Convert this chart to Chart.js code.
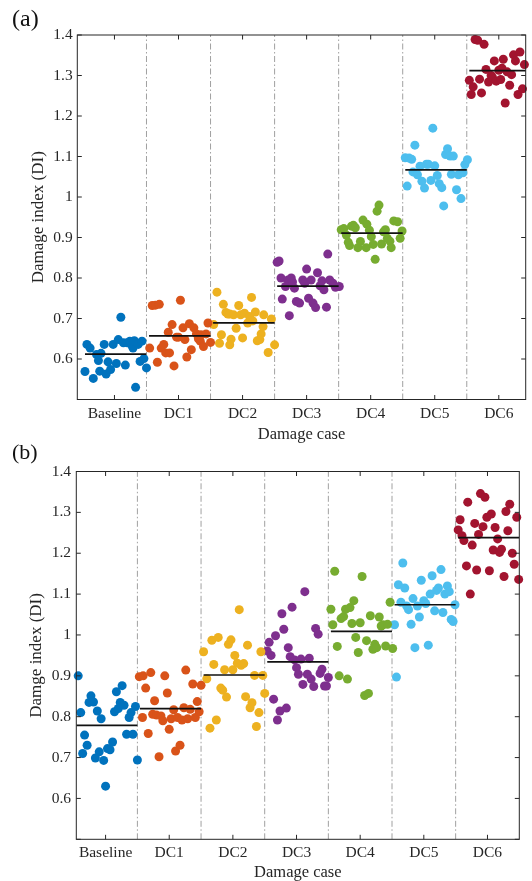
<!DOCTYPE html>
<html>
<head>
<meta charset="utf-8">
<title>Damage index by damage case</title>
<script src="https://cdn.jsdelivr.net/npm/chart.js@4.4.1/dist/chart.umd.min.js"></script>
<style>
  html, body { margin: 0; padding: 0; background: #fff; overflow: hidden; }
  #page { position: relative; width: 532px; height: 881px; }
  canvas { position: absolute; left: 0; }
  #chartA { top: 0; }
  #chartB { top: 436px; }
</style>
</head>
<body>
<div id="page">
  <canvas id="chartA" width="532" height="446"></canvas>
  <canvas id="chartB" width="532" height="450"></canvas>
</div>
<script>
const categories = ['Baseline', 'DC1', 'DC2', 'DC3', 'DC4', 'DC5', 'DC6'];
const caseColors = ['#0072BD', '#D95319', '#EDB120', '#7E2F8E', '#77AC30', '#4DBEEE', '#A2142F'];

// ----- PANEL (a): [x position, DI] -----
const aBaseline = [[0.54,0.569],[0.57,0.636],[0.62,0.627],[0.67,0.552],[0.72,0.611],[0.75,0.596],[0.77,0.570],[0.79,0.614],[0.84,0.636],[0.87,0.563],[0.90,0.593],[0.94,0.574],[0.98,0.636],[1.03,0.589],[1.06,0.648],[1.10,0.703],[1.14,0.640],[1.17,0.585],[1.20,0.640],[1.24,0.644],[1.27,0.634],[1.29,0.627],[1.31,0.645],[1.33,0.530],[1.37,0.636],[1.40,0.594],[1.43,0.644],[1.46,0.601],[1.50,0.578]];
const aDC1 = [[1.55,0.627],[1.59,0.732],[1.64,0.733],[1.67,0.592],[1.70,0.735],[1.73,0.627],[1.77,0.636],[1.80,0.615],[1.84,0.666],[1.86,0.615],[1.90,0.685],[1.93,0.583],[1.97,0.654],[2.00,0.654],[2.03,0.745],[2.07,0.677],[2.10,0.648],[2.13,0.605],[2.17,0.687],[2.20,0.623],[2.24,0.677],[2.28,0.662],[2.31,0.650],[2.34,0.644],[2.35,0.660],[2.39,0.631],[2.43,0.662],[2.46,0.689],[2.50,0.641]];
const aDC2 = [[2.55,0.685],[2.60,0.765],[2.64,0.639],[2.67,0.660],[2.70,0.735],[2.74,0.715],[2.77,0.711],[2.80,0.711],[2.80,0.635],[2.82,0.649],[2.86,0.709],[2.90,0.676],[2.94,0.732],[2.97,0.709],[3.00,0.652],[3.03,0.713],[3.08,0.689],[3.11,0.705],[3.14,0.752],[3.16,0.694],[3.20,0.716],[3.23,0.645],[3.27,0.648],[3.29,0.662],[3.32,0.680],[3.33,0.709],[3.40,0.616],[3.45,0.699],[3.50,0.635]];
const aDC3 = [[3.54,0.839],[3.57,0.842],[3.60,0.800],[3.62,0.748],[3.67,0.779],[3.71,0.795],[3.73,0.707],[3.76,0.800],[3.78,0.790],[3.81,0.775],[3.84,0.742],[3.89,0.738],[3.94,0.795],[3.97,0.787],[4.00,0.822],[4.03,0.750],[4.07,0.795],[4.10,0.738],[4.14,0.727],[4.17,0.813],[4.21,0.781],[4.24,0.793],[4.27,0.771],[4.31,0.728],[4.33,0.859],[4.36,0.795],[4.41,0.787],[4.45,0.777],[4.51,0.779]];
const aDC4 = [[4.54,0.919],[4.58,0.922],[4.62,0.906],[4.65,0.888],[4.67,0.880],[4.70,0.928],[4.73,0.930],[4.76,0.924],[4.80,0.875],[4.84,0.890],[4.88,0.943],[4.93,0.875],[4.94,0.933],[4.98,0.918],[5.01,0.902],[5.04,0.883],[5.07,0.846],[5.10,0.965],[5.13,0.980],[5.17,0.884],[5.20,0.914],[5.23,0.919],[5.26,0.898],[5.30,0.891],[5.32,0.875],[5.36,0.941],[5.42,0.939],[5.46,0.898],[5.49,0.916]];
const aDC5 = [[5.54,1.097],[5.57,1.027],[5.60,1.096],[5.64,1.093],[5.66,1.062],[5.69,1.128],[5.73,1.055],[5.77,1.076],[5.80,1.039],[5.84,1.022],[5.87,1.081],[5.90,1.081],[5.94,1.041],[5.97,1.170],[6.00,1.077],[6.04,1.053],[6.07,1.033],[6.11,1.023],[6.14,0.978],[6.17,1.105],[6.20,1.119],[6.24,1.101],[6.26,1.056],[6.29,1.101],[6.34,1.018],[6.37,1.055],[6.41,0.996],[6.44,1.060],[6.47,1.080],[6.51,1.092]];
const aDC6 = [[6.54,1.288],[6.57,1.253],[6.60,1.272],[6.63,1.389],[6.67,1.387],[6.70,1.291],[6.73,1.257],[6.77,1.377],[6.80,1.315],[6.84,1.284],[6.88,1.300],[6.90,1.296],[6.93,1.336],[6.96,1.286],[7.00,1.313],[7.03,1.290],[7.05,1.318],[7.07,1.340],[7.10,1.232],[7.13,1.309],[7.17,1.276],[7.20,1.302],[7.23,1.351],[7.26,1.336],[7.30,1.253],[7.33,1.358],[7.37,1.267],[7.40,1.327]];
const aMeans = [0.612, 0.657, 0.689, 0.780, 0.911, 1.067, 1.312];

// ----- PANEL (b): [x position, DI] -----
const bBaseline = [[0.57,0.900],[0.61,0.810],[0.64,0.710],[0.67,0.755],[0.71,0.730],[0.74,0.835],[0.77,0.851],[0.81,0.836],[0.84,0.699],[0.87,0.814],[0.90,0.714],[0.93,0.795],[0.97,0.693],[1.00,0.630],[1.03,0.722],[1.07,0.719],[1.11,0.738],[1.14,0.812],[1.17,0.861],[1.20,0.820],[1.23,0.835],[1.26,0.876],[1.29,0.828],[1.33,0.757],[1.37,0.798],[1.40,0.810],[1.43,0.757],[1.47,0.825],[1.50,0.694]];
const bDC1 = [[1.53,0.898],[1.58,0.798],[1.59,0.900],[1.63,0.870],[1.67,0.759],[1.71,0.908],[1.74,0.806],[1.77,0.839],[1.80,0.804],[1.84,0.702],[1.87,0.802],[1.90,0.790],[1.93,0.900],[1.97,0.858],[2.00,0.769],[2.03,0.795],[2.07,0.817],[2.10,0.716],[2.13,0.798],[2.17,0.730],[2.20,0.792],[2.23,0.822],[2.26,0.914],[2.29,0.795],[2.33,0.818],[2.37,0.880],[2.41,0.798],[2.44,0.837],[2.47,0.812],[2.50,0.877]];
const bDC2 = [[2.54,0.959],[2.59,0.893],[2.64,0.772],[2.67,0.987],[2.70,0.928],[2.74,0.792],[2.77,0.994],[2.81,0.870],[2.84,0.865],[2.87,0.915],[2.90,0.848],[2.93,0.977],[2.97,0.988],[3.00,0.915],[3.03,0.950],[3.07,0.931],[3.10,1.062],[3.13,0.926],[3.17,0.930],[3.20,0.849],[3.23,0.975],[3.27,0.822],[3.30,0.834],[3.34,0.901],[3.37,0.776],[3.41,0.810],[3.44,0.959],[3.47,0.901],[3.50,0.857]];
const bDC3 = [[3.54,0.961],[3.57,0.982],[3.60,0.950],[3.64,0.843],[3.67,0.998],[3.70,0.792],[3.74,0.814],[3.77,1.052],[3.80,1.014],[3.84,0.821],[3.87,0.969],[3.90,0.947],[3.93,1.068],[3.97,0.939],[4.00,0.920],[4.03,0.904],[4.07,0.941],[4.10,0.879],[4.13,1.106],[4.17,0.904],[4.20,0.943],[4.23,0.892],[4.27,0.874],[4.30,1.016],[4.34,1.002],[4.37,0.906],[4.40,0.916],[4.44,0.875],[4.47,0.875],[4.50,0.896]];
const bDC4 = [[4.54,1.063],[4.57,1.025],[4.60,1.156],[4.64,0.972],[4.67,0.900],[4.70,1.040],[4.74,1.045],[4.77,1.063],[4.80,0.892],[4.84,1.067],[4.87,1.028],[4.90,1.084],[4.93,0.994],[4.97,0.957],[5.00,1.030],[5.03,1.143],[5.07,0.852],[5.10,0.986],[5.13,0.857],[5.16,1.047],[5.20,0.965],[5.23,0.977],[5.26,0.969],[5.30,1.044],[5.33,1.022],[5.36,1.025],[5.40,0.973],[5.43,1.026],[5.47,1.080],[5.51,0.967]];
const bDC5 = [[5.54,1.025],[5.57,0.897],[5.60,1.123],[5.64,1.080],[5.67,1.176],[5.70,1.115],[5.73,1.071],[5.76,1.062],[5.80,1.026],[5.83,1.089],[5.86,0.969],[5.90,1.071],[5.93,1.044],[5.96,1.134],[6.00,1.084],[6.03,1.077],[6.07,0.975],[6.10,1.100],[6.13,1.145],[6.17,1.059],[6.20,1.109],[6.23,1.115],[6.27,1.160],[6.30,1.055],[6.33,1.100],[6.37,1.120],[6.40,1.106],[6.43,1.038],[6.46,1.033],[6.49,1.074]];
const bDC6 = [[6.54,1.257],[6.57,1.282],[6.60,1.243],[6.63,1.231],[6.67,1.169],[6.69,1.325],[6.73,1.100],[6.76,1.220],[6.80,1.273],[6.83,1.159],[6.86,1.246],[6.89,1.346],[6.93,1.265],[6.96,1.337],[6.99,1.288],[7.03,1.157],[7.06,1.296],[7.09,1.208],[7.12,1.263],[7.16,1.235],[7.19,1.202],[7.22,1.210],[7.26,1.143],[7.29,1.302],[7.32,1.255],[7.35,1.320],[7.39,1.200],[7.42,1.173],[7.46,1.288],[7.49,1.136]];
const bMeans = [0.779, 0.820, 0.902, 0.934, 1.009, 1.074, 1.238];

const serif = '"Liberation Serif", "Times New Roman", serif';
const textColor = '#262626';
const tickLen = 4.5;

// box around the plot with inward ticks on all four sides, plus the panel letter
const panelFrame = {
  id: 'panelFrame',
  afterDatasetsDraw(chart, args, opts) {
    const { ctx, chartArea: a, scales: { x, y } } = chart;
    ctx.save();
    ctx.strokeStyle = textColor;
    ctx.lineWidth = 1;
    ctx.strokeRect(a.left, a.top, a.right - a.left, a.bottom - a.top);
    ctx.beginPath();
    x.ticks.forEach(t => {
      const px = x.getPixelForValue(t.value);
      ctx.moveTo(px, a.bottom); ctx.lineTo(px, a.bottom - tickLen);
      ctx.moveTo(px, a.top); ctx.lineTo(px, a.top + tickLen);
    });
    y.ticks.forEach(t => {
      const py = y.getPixelForValue(t.value);
      ctx.moveTo(a.left, py); ctx.lineTo(a.left + tickLen, py);
      ctx.moveTo(a.right, py); ctx.lineTo(a.right - tickLen, py);
    });
    ctx.stroke();
    ctx.fillStyle = '#111';
    ctx.font = opts.size + 'px ' + serif;
    ctx.textAlign = 'left';
    ctx.textBaseline = 'alphabetic';
    ctx.fillText(opts.letter, opts.x, opts.y);
    ctx.restore();
  }
};

function buildDatasets(groups, means) {
  const sets = [];
  // mean level of each case
  means.forEach((m, i) => {
    sets.push({
      type: 'line',
      data: [{ x: i + 1 - 0.46, y: m }, { x: i + 1.5, y: m }],
      borderColor: '#111',
      borderWidth: 1.7,
      pointRadius: 0,
      order: 1
    });
  });
  groups.forEach((pts, i) => {
    sets.push({
      type: 'scatter',
      data: pts.map(p => ({ x: p[0], y: p[1] })),
      backgroundColor: caseColors[i],
      borderWidth: 0,
      pointRadius: 4.5,
      pointHoverRadius: 4.5,
      clip: false,
      order: 2
    });
  });
  // dash-dot separators between cases
  for (let i = 1; i < categories.length; i++) {
    sets.push({
      type: 'line',
      data: [{ x: i + 0.5, y: 0.5 }, { x: i + 0.5, y: 1.4 }],
      borderColor: '#a0a0a0',
      borderWidth: 1,
      borderDash: [6, 2.5, 1.5, 2.5],
      pointRadius: 0,
      order: 3
    });
  }
  return sets;
}

function createPanel(canvasId, groups, means, cfg) {
  const ctx = document.getElementById(canvasId).getContext('2d');
  return new Chart(ctx, {
    type: 'scatter',
    data: { datasets: buildDatasets(groups, means) },
    options: {
      responsive: false,
      animation: false,
      layout: { padding: { top: cfg.top, right: cfg.right, bottom: 0, left: 0 } },
      plugins: {
        legend: { display: false },
        tooltip: { enabled: false },
        panelFrame: cfg.letter
      },
      scales: {
        x: {
          type: 'linear',
          min: cfg.xMin,
          max: cfg.xMax,
          afterBuildTicks: s => { s.ticks = categories.map((_, i) => ({ value: i + 1 })); },
          afterFit: s => { s.height = cfg.xAxisHeight; },
          grid: { display: false, drawTicks: false },
          border: { display: false },
          ticks: {
            color: textColor,
            font: { family: serif, size: 15.5 },
            padding: cfg.xTickPad,
            maxRotation: 0,
            autoSkip: false,
            callback: v => categories[v - 1]
          },
          title: {
            display: true,
            text: 'Damage case',
            color: textColor,
            font: { family: serif, size: 16.5 },
            padding: { top: 0, bottom: cfg.xTitlePad }
          }
        },
        y: {
          min: 0.5,
          max: 1.4,
          afterFit: s => { s.width = cfg.yAxisWidth; },
          grid: { display: false, drawTicks: false },
          border: { display: false },
          ticks: {
            stepSize: 0.1,
            color: textColor,
            font: { family: serif, size: 15.5 },
            padding: cfg.yTickPad,
            callback: v => (v < 0.55 ? '' : String(Math.round(v * 10) / 10))
          },
          title: {
            display: true,
            text: cfg.yTitle,
            color: textColor,
            font: { family: serif, size: 17 },
            padding: { top: cfg.yTitlePad, bottom: 0 }
          }
        }
      }
    },
    plugins: [panelFrame]
  });
}

createPanel('chartA', [aBaseline, aDC1, aDC2, aDC3, aDC4, aDC5, aDC6], aMeans, {
  top: 35, right: 6.3, xMin: 0.42, xMax: 7.42,
  xAxisHeight: 46.5, yAxisWidth: 77.3,
  xTickPad: 5.5, xTitlePad: 1.1, yTickPad: 4.6, yTitlePad: 28.3,
  yTitle: 'Damage index (DI)',
  letter: { letter: '(a)', size: 24, x: 12, y: 26 }
});

createPanel('chartB', [bBaseline, bDC1, bDC2, bDC3, bDC4, bDC5, bDC6], bMeans, {
  top: 35.5, right: 12.7, xMin: 0.54, xMax: 7.5,
  xAxisHeight: 46.7, yAxisWidth: 76.3,
  xTickPad: 4.7, xTitlePad: 3.1, yTickPad: 5.3, yTitlePad: 26.8,
  yTitle: 'Damge index (DI)',
  letter: { letter: '(b)', size: 22, x: 12, y: 23 }
});
</script>
</body>
</html>
